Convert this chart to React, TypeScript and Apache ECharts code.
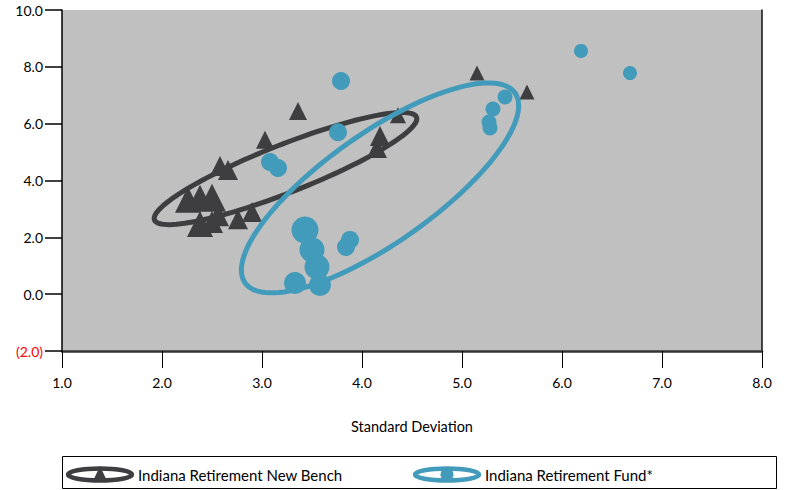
import React, { useEffect, useRef } from "react";
import * as echarts from "echarts";

// ---- data ----
const seriesNames = ["Indiana Retirement New Bench", "Indiana Retirement Fund*"];
const xAxisTitle = "Standard Deviation";

const benchX = [3.36, 3.03, 2.58, 2.66, 2.26, 2.38, 2.5, 2.38, 2.5, 2.56, 2.76, 2.9, 4.18, 4.15, 4.36, 5.15, 5.65];
const benchY = [6.45, 5.43, 4.51, 4.37, 3.32, 3.39, 3.39, 2.47, 2.54, 2.78, 2.64, 2.89, 5.57, 5.14, 6.3, 7.78, 7.11];
const benchSize = [18, 18, 20, 20, 26, 26, 28, 26, 22, 22, 20, 20, 20, 20, 16, 15, 15];

const fundX = [3.79, 6.19, 6.68, 3.76, 3.08, 3.16, 5.43, 5.31, 5.27, 5.28, 3.43, 3.5, 3.55, 3.33, 3.58, 3.88, 3.84];
const fundY = [7.5, 8.56, 7.78, 5.7, 4.65, 4.44, 6.94, 6.52, 6.06, 5.85, 2.26, 1.56, 0.96, 0.39, 0.32, 1.91, 1.66];
const fundSize = [18, 14, 14, 18, 18, 18, 15, 15, 15, 15, 27, 25, 25, 22, 22, 18, 18];

// ellipse: centre x, centre y, first semi-axis (dx, dy), second semi-axis (dx, dy) in data units
const benchEllipse = [3.235, 4.42, 1.31, 1.81, 0.088, -0.785];
const fundEllipse = [4.18, 3.74, 1.35, 3.34, 0.316, -1.58];

const xTicks = { min: 1, max: 8, interval: 1 };
const yTicks = { min: -2, max: 10, interval: 2 };

const DARK = "#3e3e40";
const BLUE = "#429bba";
const FONT = "Lato, 'Open Sans', sans-serif";

function ellipseRender(color: string) {
  return (_params: any, api: any) => {
    const cx = api.value(0);
    const cy = api.value(1);
    const c = api.coord([cx, cy]);
    const a = api.coord([cx + api.value(2), cy + api.value(3)]);
    const b = api.coord([cx + api.value(4), cy + api.value(5)]);
    const ux = a[0] - c[0], uy = a[1] - c[1];
    const vx = b[0] - c[0], vy = b[1] - c[1];
    const pts: number[][] = [];
    const n = 120;
    for (let i = 0; i < n; i++) {
      const t = (i / n) * Math.PI * 2;
      pts.push([c[0] + Math.cos(t) * ux + Math.sin(t) * vx, c[1] + Math.cos(t) * uy + Math.sin(t) * vy]);
    }
    return {
      type: "polygon",
      shape: { points: pts },
      style: { fill: "none", stroke: color, lineWidth: 5 },
    };
  };
}

const fmt = (v: number) => (v < 0 ? `(${Math.abs(v).toFixed(1)})` : v.toFixed(1));

export default function App() {
  const ref = useRef<HTMLDivElement>(null);
  useEffect(() => {
    document.body.style.margin = "0";
    const chart = echarts.init(ref.current!, null, { renderer: "svg" });
    const option: any = {
      animation: false,
      backgroundColor: "#ffffff",
      textStyle: { fontFamily: FONT },
      grid: {
        left: 62,
        right: 25,
        top: 10,
        bottom: 139,
        show: true,
        backgroundColor: "#c0c0c0",
        borderWidth: 0,
      },
      xAxis: {
        type: "value",
        min: xTicks.min,
        max: xTicks.max,
        interval: xTicks.interval,
        name: xAxisTitle,
        nameLocation: "middle",
        nameGap: 68,
        nameTextStyle: { fontSize: 14.5, color: "#000", fontFamily: FONT },
        axisLine: { show: true, onZero: false, lineStyle: { color: "#333", width: 2.5 } },
        axisTick: { show: true, length: 17, lineStyle: { color: "#000", width: 1 } },
        axisLabel: { formatter: fmt, margin: 24, fontSize: 14, color: "#000", fontFamily: FONT },
        splitLine: { show: false },
      },
      yAxis: [
        {
          type: "value",
          min: yTicks.min,
          max: yTicks.max,
          interval: yTicks.interval,
          axisLine: { show: true, onZero: false, lineStyle: { color: "#000", width: 1.5 } },
          axisTick: { show: true, length: 17, lineStyle: { color: "#000", width: 1.5 } },
          axisLabel: {
            formatter: fmt,
            margin: 19,
            fontSize: 14,
            fontFamily: FONT,
            color: (v: any) => (Number(v) < 0 ? "#ff0000" : "#000"),
          },
          splitLine: { show: false },
        },
        {
          type: "value",
          position: "right",
          min: yTicks.min,
          max: yTicks.max,
          interval: yTicks.interval,
          axisLine: { show: true, onZero: false, lineStyle: { color: "#111", width: 1.5 } },
          axisTick: { show: false },
          axisLabel: { show: false },
          splitLine: { show: false },
        },
      ],
      series: [
        {
          type: "custom",
          name: seriesNames[0] + " ellipse",
          renderItem: ellipseRender(DARK),
          encode: { x: 0, y: 1 },
          data: [benchEllipse],
          z: 2,
          silent: true,
        },
        {
          type: "scatter",
          name: seriesNames[0],
          symbol: "triangle",
          itemStyle: { color: DARK, opacity: 1 },
          data: benchX.map((x, i) => ({ value: [x, benchY[i]], symbolSize: benchSize[i] })),
          z: 3,
        },
        {
          type: "custom",
          name: seriesNames[1] + " ellipse",
          renderItem: ellipseRender(BLUE),
          encode: { x: 0, y: 1 },
          data: [fundEllipse],
          z: 4,
          silent: true,
        },
        {
          type: "scatter",
          name: seriesNames[1],
          symbol: "circle",
          itemStyle: { color: BLUE, opacity: 1 },
          data: fundX.map((x, i) => ({ value: [x, fundY[i]], symbolSize: fundSize[i] })),
          z: 5,
        },
      ],
      graphic: [
        {
          type: "rect",
          shape: { x: 62.5, y: 456.5, width: 714, height: 32 },
          style: { fill: "#fff", stroke: "#000", lineWidth: 1 },
        },
        {
          type: "ellipse",
          shape: { cx: 100, cy: 474.5, rx: 32, ry: 6 },
          style: { fill: "none", stroke: DARK, lineWidth: 4.5 },
        },
        {
          type: "polygon",
          shape: { points: [[100, 466], [92.5, 482], [107.5, 482]] },
          style: { fill: DARK },
        },
        {
          type: "text",
          style: { text: seriesNames[0], x: 138, y: 475, verticalAlign: "middle", font: `15px ${FONT}`, fill: "#000" },
        },
        {
          type: "ellipse",
          shape: { cx: 447, cy: 474.5, rx: 32, ry: 6 },
          style: { fill: "none", stroke: BLUE, lineWidth: 4.5 },
        },
        {
          type: "circle",
          shape: { cx: 447, cy: 474.5, r: 6.5 },
          style: { fill: BLUE },
        },
        {
          type: "text",
          style: { text: seriesNames[1], x: 485, y: 475, verticalAlign: "middle", font: `15px ${FONT}`, fill: "#000" },
        },
      ],
    };
    chart.setOption(option);
    return () => chart.dispose();
  }, []);
  return <div ref={ref} style={{ width: 787, height: 490 }} />;
}
